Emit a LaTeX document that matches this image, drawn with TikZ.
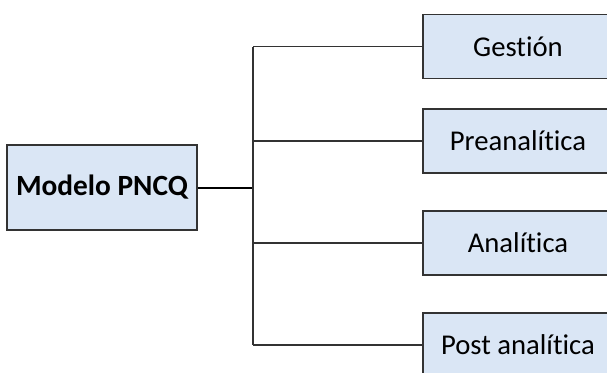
\documentclass[tikz,border=0pt]{standalone}
\usepackage{fontspec}
\setmainfont[Ligatures=NoCommon]{Carlito}

\tikzset{every picture/.style={line width=0.75pt}}
\tikzset{
  caja/.style={draw={rgb, 255:red, 51; green, 51; blue, 51 }, fill={rgb, 255:red, 218; green, 230; blue, 245 }, line width=1pt, inner sep=0pt, font=\fontsize{21.5}{25}\selectfont},
  rama/.style={caja, minimum width=142.5pt, minimum height=48pt},
  enlace/.style={draw={rgb, 255:red, 51; green, 51; blue, 51 }, line width=1.1pt}
}

\begin{document}
\begin{tikzpicture}[x=0.75pt,y=0.75pt,yscale=-1,xscale=1]
	\clip (0,0) rectangle (607,372);
	\fill[white] (0,0) rectangle (607,372);

	% Nodo raiz
	\node[caja, minimum width=142.5pt, minimum height=63.75pt, font=\fontsize{22}{26}\selectfont\bfseries] (modelo) at (102,187.5) {Modelo PNCQ};

	% Ramas
	\node[rama] (gestion) at (518,46.5) {Gestión};
	\node[rama] (pre) at (518,141) {Preanalítica};
	\node[rama] (ana) at (518,243) {Analítica};
	\node[rama] (post) at (518,345) {Post analítica};

	% Tronco
	\coordinate (tronco) at (253,187.5);
	\coordinate (t1) at (253,46.5);
	\coordinate (t2) at (253,141);
	\coordinate (t3) at (253,243);
	\coordinate (t4) at (253,345);

	\draw[enlace, black, line width=1.5pt] (modelo.east) -- (tronco);
	\draw[enlace] (t1) -- (t4);
	\draw[enlace] (t1) -- (gestion.west);
	\draw[enlace] (t2) -- (pre.west);
	\draw[enlace] (t3) -- (ana.west);
	\draw[enlace] (t4) -- (post.west);

\end{tikzpicture}
\end{document}
